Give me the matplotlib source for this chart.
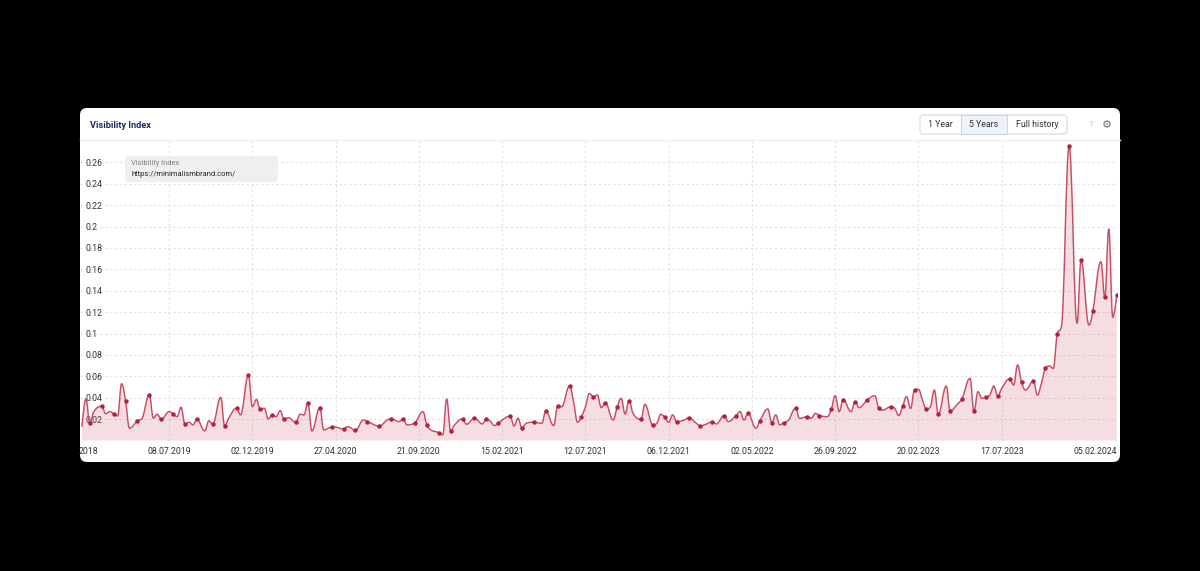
import numpy as np
import pandas as pd
import matplotlib
matplotlib.use("Agg")
import matplotlib.pyplot as plt
import matplotlib.dates as mdates
from matplotlib.path import Path
from matplotlib.patches import PathPatch, FancyBboxPatch
from matplotlib.transforms import IdentityTransform
from matplotlib.lines import Line2D

# ---------------- data ----------------
start_date = "2019-02-04"   # first Monday of the series
weeks = [0, 1, 2, 3, 5, 6, 7, 8, 9, 10, 11, 12, 14, 15, 17, 18, 19, 20, 22, 23, 24, 25, 26, 27, 28, 29,
         31, 32, 33, 35, 36, 37, 39, 40, 42, 43, 44, 45, 46, 47, 48, 49, 50, 51, 52, 54, 55, 56, 57, 58,
         60, 61, 63, 64, 65, 66, 67, 69, 71, 72, 75, 77, 78, 80, 81, 82, 84, 86, 87, 88, 90, 91, 92, 93,
         94, 96, 97, 99, 101, 102, 103, 104, 105, 106, 108, 109, 110, 111, 112, 114, 116, 117, 119, 120,
         121, 123, 124, 125, 126, 127, 128, 129, 130, 131, 132, 134, 135, 136, 137, 138, 139, 141, 142,
         144, 145, 146, 147, 148, 149, 150, 152, 153, 155, 156, 157, 159, 160, 162, 163, 165, 166, 167,
         168, 170, 171, 173, 174, 175, 176, 177, 178, 180, 181, 183, 184, 185, 186, 188, 189, 190, 191,
         192, 194, 195, 196, 198, 200, 201, 202, 204, 205, 206, 207, 208, 209, 210, 211, 212, 213, 214,
         215, 216, 218, 219, 221, 222, 224, 225, 226, 227, 228, 229, 230, 231, 232, 234, 235, 236, 237,
         238, 240, 241, 242, 243, 244, 245, 246, 247, 249, 251, 252, 254, 255, 257, 258, 259, 260, 261]
values = [0.013, 0.039, 0.016, 0.027, 0.032, 0.025, 0.027, 0.025, 0.023, 0.053, 0.037, 0.0115, 0.0186,
          0.020, 0.043, 0.021, 0.0245, 0.0198, 0.027, 0.0248, 0.0223, 0.031, 0.0152, 0.0171, 0.0146,
          0.0198, 0.009, 0.0183, 0.0155, 0.0403, 0.0136, 0.0208, 0.0301, 0.0239, 0.0611, 0.0316, 0.0384,
          0.0291, 0.0301, 0.0202, 0.0239, 0.0223, 0.0279, 0.0198, 0.0214, 0.017, 0.0245, 0.0239, 0.0353,
          0.009, 0.0307, 0.0099, 0.0124, 0.0124, 0.0115, 0.0105, 0.013, 0.0096, 0.0192, 0.0177, 0.0136,
          0.0192, 0.0202, 0.0177, 0.0202, 0.0146, 0.0167, 0.027, 0.0146, 0.0099, 0.0074, 0.0053, 0.0388,
          0.009, 0.0146, 0.0202, 0.0152, 0.0208, 0.0155, 0.0202, 0.018, 0.014, 0.0161, 0.0192, 0.0229,
          0.0136, 0.0208, 0.0115, 0.0161, 0.0171, 0.0161, 0.0276, 0.014, 0.0322, 0.0316, 0.0512, 0.0363,
          0.0171, 0.0223, 0.0316, 0.044, 0.0409, 0.0425, 0.0307, 0.0353, 0.0192, 0.031, 0.0394, 0.0248,
          0.0372, 0.0254, 0.0198, 0.0338, 0.0146, 0.0161, 0.0245, 0.0217, 0.0171, 0.0239, 0.0177, 0.0192,
          0.0214, 0.016, 0.0136, 0.0146, 0.0174, 0.0155, 0.0233, 0.0177, 0.0233, 0.027, 0.0192, 0.0254,
          0.0115, 0.0186, 0.0295, 0.0167, 0.0239, 0.0146, 0.0167, 0.0183, 0.0301, 0.0208, 0.0223, 0.0208,
          0.0254, 0.0233, 0.0223, 0.0291, 0.0419, 0.027, 0.0381, 0.027, 0.0363, 0.0307, 0.0375, 0.0419,
          0.0301, 0.0285, 0.0316, 0.0301, 0.0233, 0.0319, 0.041, 0.030, 0.0472, 0.0478, 0.0379, 0.0294,
          0.0316, 0.0472, 0.0248, 0.0509, 0.0279, 0.0347, 0.0391, 0.0581, 0.0273, 0.0456, 0.0394, 0.0407,
          0.0425, 0.0509, 0.0416, 0.0488, 0.0578, 0.0519, 0.0706, 0.0544, 0.0472, 0.0556, 0.0425, 0.0534,
          0.0674, 0.0696, 0.0674, 0.0995, 0.106, 0.2752, 0.1095, 0.1687, 0.108, 0.1214, 0.1671, 0.1338,
          0.1977, 0.1151, 0.1357]
marked = [0, 0, 1, 0, 1, 0, 0, 1, 0, 0, 1, 0, 1, 0, 1, 0, 0, 1, 0, 1, 0, 0, 1, 0, 0, 1,
          0, 0, 1, 0, 1, 0, 1, 0, 1, 0, 0, 1, 0, 0, 1, 0, 0, 1, 0, 1, 0, 0, 1, 0,
          1, 0, 1, 0, 0, 1, 0, 1, 0, 1, 1, 0, 1, 0, 1, 0, 1, 0, 1, 0, 1, 0, 0, 1,
          0, 1, 0, 1, 0, 1, 0, 0, 1, 0, 1, 0, 0, 1, 0, 1, 0, 1, 0, 1,
          0, 1, 0, 0, 1, 0, 0, 1, 0, 0, 1, 0, 1, 0, 0, 1, 0, 1, 0,
          1, 0, 0, 1, 0, 0, 1, 0, 1, 0, 1, 0, 1, 0, 1, 0, 1, 0, 0,
          1, 0, 1, 0, 1, 0, 0, 1, 0, 1, 0, 1, 0, 0, 1, 0, 1, 0, 0,
          1, 0, 1, 0, 1, 0, 1, 0, 1, 0, 0, 1, 0, 0, 1, 0, 0, 1, 0,
          0, 1, 0, 1, 0, 1, 0, 1, 0, 0, 1, 0, 0, 1, 0, 1, 0, 0, 1,
          0, 1, 0, 0, 1, 0, 0, 1, 0, 1, 0, 1, 0, 1, 0, 1, 0, 0, 1]

x_tick_labels = ["08.07.2019", "02.12.2019", "27.04.2020", "21.09.2020", "15.02.2021", "12.07.2021",
                 "06.12.2021", "02.05.2022", "26.09.2022", "20.02.2023", "17.07.2023", "05.02.2024"]
y_ticks = [0.02, 0.04, 0.06, 0.08, 0.10, 0.12, 0.14, 0.16, 0.18, 0.20, 0.22, 0.24, 0.26]
series_name = "Visibility Index"
domain = "https://minimalismbrand.com/"
buttons = ["1 Year", "5 Years", "Full history"]

# ---------------- style ----------------
W, H = 1200, 571
plt.rcParams["font.family"] = ["Roboto", "DejaVu Sans"]
LINE = "#c94d63"
DOT = "#b3213d"
TXT = "#333333"

fig = plt.figure(figsize=(W / 100, H / 100), dpi=100, facecolor="black")

def px(x, y):
    return x / W, 1 - y / H

# card
card = FancyBboxPatch((80, H - 462), 1040, 354, boxstyle="round,pad=0,rounding_size=7",
                      transform=IdentityTransform(), facecolor="white", edgecolor="none", zorder=0)
fig.add_artist(card)
fig.add_artist(Line2D([80, 1120], [H - 140, H - 140], transform=IdentityTransform(),
                      color="#f0f0f0", lw=1.0, zorder=1))

fig.text(*px(90, 125), "Visibility Index", fontsize=6.6, fontweight="bold", color="#1d2a5c",
         ha="left", va="center")

# buttons
bx = [920, 961, 1007, 1067]
grp = FancyBboxPatch((bx[0], H - 134), bx[-1] - bx[0], 19, boxstyle="round,pad=0,rounding_size=3",
                     transform=IdentityTransform(), facecolor="white", edgecolor="#d9d9d9", lw=0.8, zorder=2)
fig.add_artist(grp)
sel = FancyBboxPatch((bx[1], H - 134), bx[2] - bx[1], 19, boxstyle="square,pad=0",
                     transform=IdentityTransform(), facecolor="#eef3fb", edgecolor="#c8d5ec", lw=0.8, zorder=3)
fig.add_artist(sel)
for i, b in enumerate(buttons):
    fig.text(*px((bx[i] + bx[i + 1]) / 2, 124.5), b, fontsize=6.3, color=TXT, ha="center", va="center", zorder=4)
fig.text(*px(1091, 125), "?", fontsize=6.5, color="#c4c4c4", ha="center", va="center")
fig.text(*px(1107, 125), "\u2699", fontsize=8, color="#6f6f6f", ha="center", va="center",
         family=["DejaVu Sans"])

# plot area
ax = fig.add_axes([80 / W, (H - 440.5) / H, 1037 / W, 299.5 / H])
ax.set_facecolor("none")
ax.set_zorder(2)

dates = pd.to_datetime(start_date) + pd.to_timedelta(np.array(weeks) * 7, unit="D")
xs = mdates.date2num(dates)
ys = np.array(values, dtype=float)
mk = np.array(marked, dtype=bool)

# Highcharts-style spline control points
def spline_path(xv, yv, closed=False):
    n = len(xv)
    sm = 1.5
    den = sm + 1
    lc = [None] * n
    rc = [None] * n
    for i in range(n):
        if 0 < i < n - 1:
            lx, ly = xv[i - 1], yv[i - 1]
            nx, ny = xv[i + 1], yv[i + 1]
            px_, py_ = xv[i], yv[i]
            lcx = (sm * px_ + lx) / den
            lcy = (sm * py_ + ly) / den
            rcx = (sm * px_ + nx) / den
            rcy = (sm * py_ + ny) / den
            corr = 0.0
            if rcx != lcx:
                corr = (rcy - lcy) * (rcx - px_) / (rcx - lcx) + py_ - rcy
            lcy += corr
            rcy += corr
            if lcy > ly and lcy > py_:
                lcy = max(ly, py_)
                rcy = 2 * py_ - lcy
            elif lcy < ly and lcy < py_:
                lcy = min(ly, py_)
                rcy = 2 * py_ - lcy
            if rcy > ny and rcy > py_:
                rcy = max(ny, py_)
                lcy = 2 * py_ - rcy
            elif rcy < ny and rcy < py_:
                rcy = min(ny, py_)
                lcy = 2 * py_ - rcy
            lc[i] = (lcx, lcy)
            rc[i] = (rcx, rcy)
        else:
            lc[i] = (xv[i], yv[i])
            rc[i] = (xv[i], yv[i])
    verts = [(xv[0], yv[0])]
    codes = [Path.MOVETO]
    for i in range(1, n):
        verts += [rc[i - 1], lc[i], (xv[i], yv[i])]
        codes += [Path.CURVE4] * 3
    if closed:
        verts += [(xv[-1], 0), (xv[0], 0), (xv[0], yv[0])]
        codes += [Path.LINETO, Path.LINETO, Path.CLOSEPOLY]
    return Path(verts, codes)

ax.add_patch(PathPatch(spline_path(xs, ys, closed=True), facecolor=LINE, alpha=0.18,
                       edgecolor="none", zorder=2))
ax.add_patch(PathPatch(spline_path(xs, ys), facecolor="none", edgecolor=LINE, lw=1.05, zorder=3))
ax.plot(xs[mk], ys[mk], "o", ms=3.2, color=DOT, mec="none", zorder=4)

x0 = mdates.date2num(pd.to_datetime(start_date)) - 3.4
x1 = mdates.date2num(pd.to_datetime("05.02.2024", dayfirst=True)) + 0.5
ax.set_xlim(x0, x1)
ax.set_ylim(0, 0.28)

tick_pos = mdates.date2num(pd.to_datetime(x_tick_labels, dayfirst=True))
ax.set_xticks(tick_pos)
ax.set_xticklabels(x_tick_labels)
ax.tick_params(axis="x", length=0, pad=5, labelsize=6.3, labelcolor=TXT)
ax.get_xticklabels()[-1].set_ha("right")

ax.set_yticks(y_ticks)
ax.set_yticklabels([f"{v:g}" for v in y_ticks])
ax.tick_params(axis="y", length=0, pad=-4.3, labelsize=6.3, labelcolor=TXT)
for t in ax.get_yticklabels():
    t.set_ha("left")

ax.grid(True, color="#e3e3e3", linestyle=(0, (2.2, 2.2)), linewidth=0.8, zorder=1)
ax.set_axisbelow(True)
for s in ax.spines.values():
    s.set_visible(False)

fig.text(*px(79, 451), "2018", fontsize=6.3, color=TXT, ha="left", va="center")

# legend box
leg = FancyBboxPatch((125, H - 182), 153, 26, boxstyle="round,pad=0,rounding_size=3",
                     transform=IdentityTransform(), facecolor="#eeeeee", edgecolor="none", zorder=5,
                     alpha=0.9)
fig.add_artist(leg)
fig.text(*px(131, 163.5), series_name, fontsize=5.4, color="#808080", ha="left", va="center", zorder=6)
fig.text(*px(131, 175), domain, fontsize=5.4, color="#222222", ha="left", va="center", zorder=6)

fig.savefig("out.png", dpi=100, facecolor="black")
